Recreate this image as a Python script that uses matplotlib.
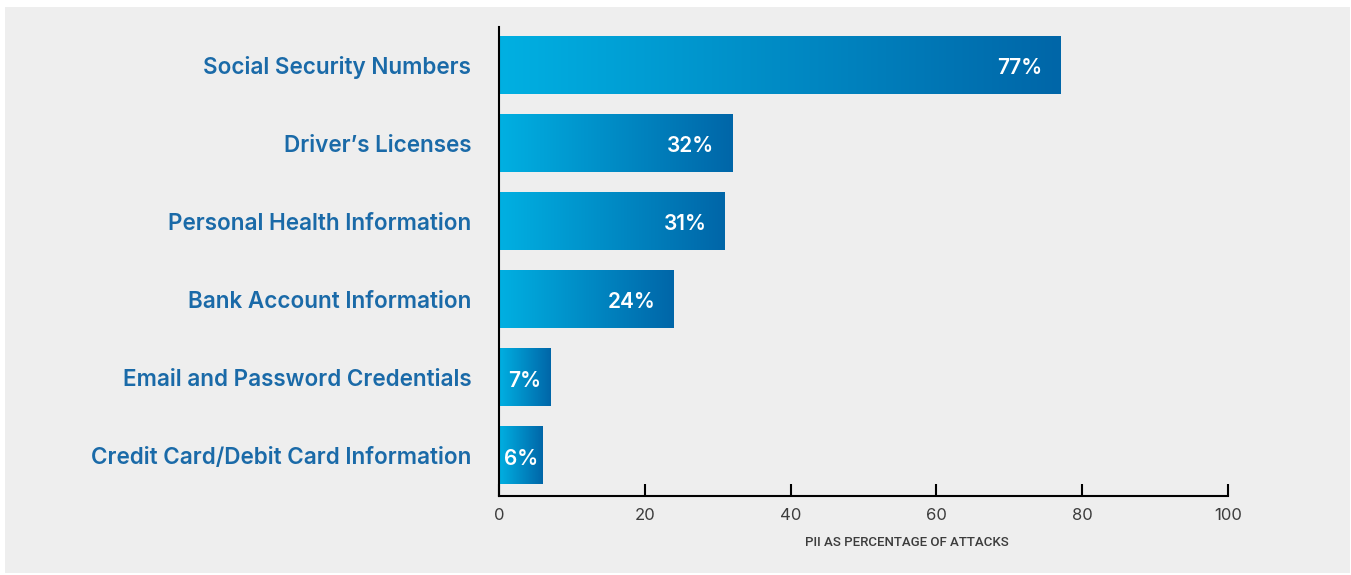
import matplotlib
matplotlib.use("Agg")
import matplotlib.pyplot as plt
import numpy as np
from matplotlib.colors import LinearSegmentedColormap
from matplotlib.patches import Rectangle

# PII types exposed, as share of attacks
categories = [
    "Social Security Numbers",
    "Driver\u2019s Licenses",
    "Personal Health Information",
    "Bank Account Information",
    "Email and Password Credentials",
    "Credit Card/Debit Card Information",
]
values = [77, 32, 31, 24, 7, 6]
xticks = [0, 20, 40, 60, 80, 100]
xlabel = "PII AS PERCENTAGE OF ATTACKS"

label_blue = "#1a6aa8"
tick_grey = "#3c3c3c"
panel_grey = "#eeeeee"
bar_cmap = LinearSegmentedColormap.from_list("bar", ["#00b0e2", "#0066a8"])

plt.rcParams["font.family"] = ["Inter", "DejaVu Sans"]

fig = plt.figure(figsize=(13.51, 5.75), dpi=100)
fig.patch.set_facecolor("white")
fig.patches.append(Rectangle((5 / 1351, 2 / 575), 1345 / 1351, 566 / 575,
                             transform=fig.transFigure, facecolor=panel_grey,
                             edgecolor="none", zorder=-10))

ax = fig.add_axes([499 / 1351, 79 / 575, 729 / 1351, 469 / 575])
ax.set_facecolor("none")

bar_h = 0.74
grad = np.linspace(0, 1, 256).reshape(1, -1)
for i, v in enumerate(values):
    ax.imshow(grad, cmap=bar_cmap, aspect="auto", interpolation="bilinear",
              extent=[0, v, i + bar_h / 2, i - bar_h / 2], zorder=2)
    if v < 10:
        ax.text(v / 2, i + 0.04, f"{v}%", ha="center", va="center",
                color="white", fontsize=15, fontweight="semibold", zorder=3)
    else:
        ax.annotate(f"{v}%", xy=(v, i + 0.04), xytext=(-13, 0),
                    textcoords="offset points", ha="right", va="center",
                    color="white", fontsize=15, fontweight="semibold", zorder=3)

ax.set_xlim(0, 100)
ax.set_ylim(5.52, -0.49)
ax.set_yticks(range(len(categories)))
ax.set_yticklabels(categories, fontsize=16.2, fontweight="semibold",
                   color=label_blue)
ax.tick_params(axis="y", length=0, pad=20)

ax.set_xticks(xticks)
ax.set_xticklabels([str(t) for t in xticks], fontsize=12, color=tick_grey)
ax.tick_params(axis="x", direction="in", length=9, width=1.5, pad=9,
               color="black")

for side in ("top", "right"):
    ax.spines[side].set_visible(False)
for side in ("left", "bottom"):
    ax.spines[side].set_linewidth(1.5)
    ax.spines[side].set_color("black")

ax.set_xlabel(xlabel, fontsize=9.5, color=tick_grey,
              family=["Roboto", "DejaVu Sans"], fontweight="medium")
ax.xaxis.set_label_coords(0.56, -0.085)

fig.savefig("out.png", dpi=100)
